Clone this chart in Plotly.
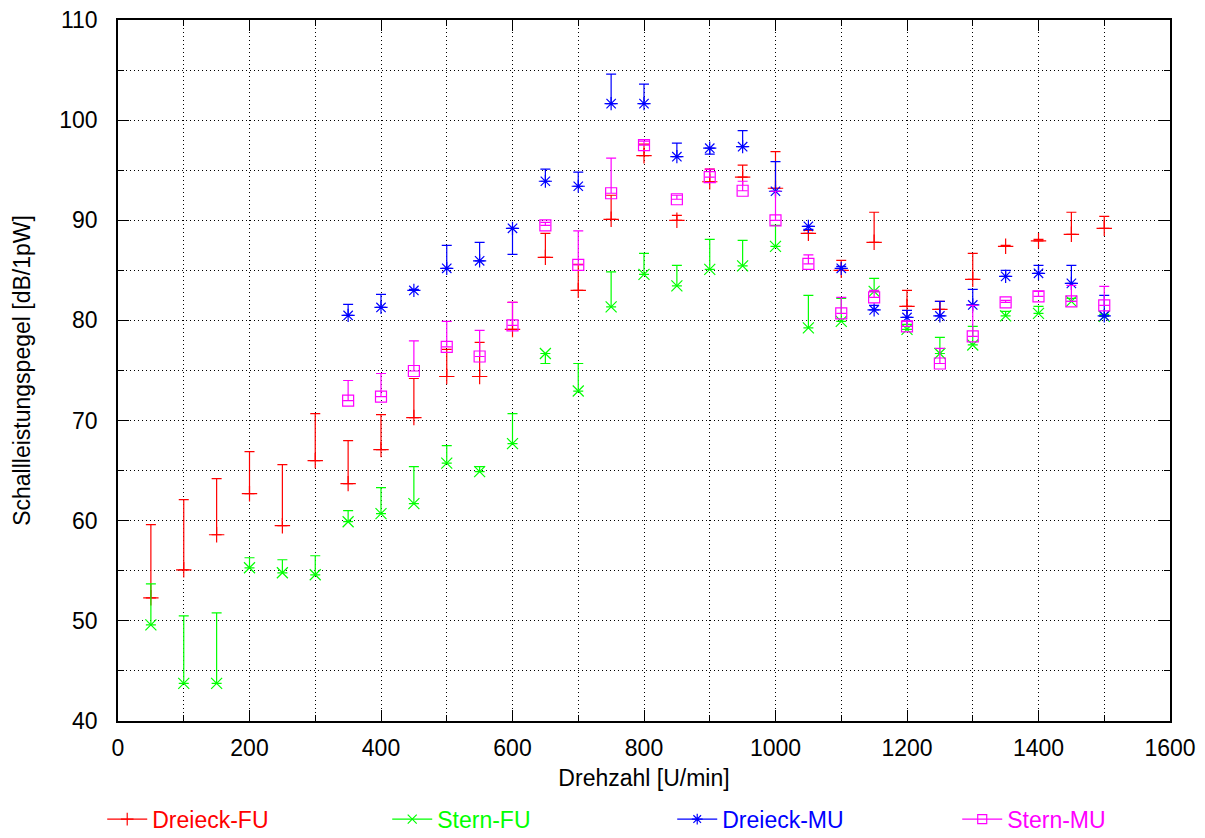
import plotly.graph_objects as go

# ---- data ----
drehzahl_fu = [50, 100, 150, 200, 250, 300, 350, 400, 450, 500, 550, 600, 650, 700, 750,
               800, 850, 900, 950, 1000, 1050, 1100, 1150, 1200, 1250, 1300, 1350, 1400, 1450, 1500]
drehzahl_mu = [350, 400, 450, 500, 550, 600, 650, 700, 750, 800, 850, 900, 950, 1000,
               1050, 1100, 1150, 1200, 1250, 1300, 1350, 1400, 1450, 1500]

# measured level and the far end of each error bar
dreieck_fu = [52.3, 55.1, 58.6, 62.7, 59.5, 66.0, 63.7, 67.1, 70.3, 74.4, 74.4, 79.1, 86.3, 83.0, 90.1,
              96.45, 90.0, 93.85, 94.3, 93.2, 88.7, 85.0, 87.8, 81.4, 81.1, 84.1, 87.4, 87.95, 88.6, 89.2]
dreieck_fu_end = [59.6, 62.1, 64.2, 66.9, 65.6, 70.7, 68.0, 70.6, 74.2, 77.1, 77.8, 81.8, 88.7, 85.6, 92.5,
                  97.6, 90.5, 95.1, 95.5, 96.85, 89.0, 86.0, 90.8, 83.0, 81.9, 86.7, 87.5, 88.1, 90.8, 90.4]

stern_fu = [49.6, 43.75, 43.75, 55.3, 54.8, 54.6, 59.9, 60.7, 61.7, 65.75, 64.9, 67.7, 76.7, 72.95, 81.35,
            84.6, 83.45, 85.1, 85.45, 87.4, 79.25, 79.9, 82.9, 79.1, 76.7, 77.55, 80.45, 80.7, 81.9, 80.4]
stern_fu_end = [53.7, 50.5, 50.8, 56.3, 56.1, 56.5, 61.0, 63.3, 65.4, 67.5, 65.4, 70.7, 75.7, 75.7, 84.85,
                86.7, 85.5, 88.1, 88.0, 89.5, 82.5, 82.2, 84.2, 79.6, 78.3, 79.4, 80.9, 81.4, 82.2, 80.6]

dreieck_mu = [80.5, 81.3, 83.0, 85.2, 85.95, 89.2, 93.9, 93.4, 101.65, 101.65, 96.35, 97.2, 97.35, 92.9,
              89.4, 85.2, 81.05, 80.3, 80.45, 81.55, 84.4, 84.7, 83.7, 80.45]
dreieck_mu_end = [81.6, 82.6, 83.1, 87.5, 87.8, 86.6, 95.1, 94.8, 104.6, 103.6, 97.7, 96.6, 98.95, 95.85,
                  89.1, 85.4, 81.5, 81.0, 81.9, 83.1, 85.0, 85.5, 85.5, 82.5]

stern_mu = [72.0, 72.4, 74.95, 77.35, 76.4, 79.5, 89.5, 85.55, 92.7, 97.5, 92.1, 94.3, 92.95, 90.0,
            85.65, 80.7, 82.3, 79.4, 75.7, 78.4, 81.8, 82.4, 81.9, 81.5]
stern_mu_end = [74.0, 74.7, 77.95, 79.9, 79.0, 81.8, 89.8, 88.95, 96.2, 97.9, 92.5, 95.1, 93.9, 92.9,
                86.55, 82.3, 83.0, 79.9, 77.2, 81.5, 82.0, 82.9, 83.5, 83.4]

series = [
    ("Dreieck-FU", drehzahl_fu, dreieck_fu, dreieck_fu_end, "#ff0000", "cross-thin-open"),
    ("Stern-FU", drehzahl_fu, stern_fu, stern_fu_end, "#00ff00", "x-thin-open"),
    ("Dreieck-MU", drehzahl_mu, dreieck_mu, dreieck_mu_end, "#0000ff", "asterisk-open"),
    ("Stern-MU", drehzahl_mu, stern_mu, stern_mu_end, "#ff00ff", "square-open"),
]

FONT = "Liberation Sans, Arial, Helvetica, sans-serif"
FS = 23

fig = go.Figure()
for name, xs, ys, ends, color, symbol in series:
    plus = [max(e - y, 0) for y, e in zip(ys, ends)]
    minus = [max(y - e, 0) for y, e in zip(ys, ends)]
    fig.add_trace(go.Scatter(
        x=xs, y=ys, mode="markers", name=name, showlegend=False,
        marker=dict(symbol=symbol, size=11, color=color, line=dict(color=color, width=1.2)),
        error_y=dict(type="data", symmetric=False, array=plus, arrayminus=minus,
                     color=color, thickness=1.2, width=5),
    ))
    # legend entry
    fig.add_trace(go.Scatter(
        x=[None], y=[None], mode="lines+markers",
        name=f"<span style='color:{color}'>{name}</span>",
        line=dict(color=color, width=1.2),
        marker=dict(symbol=symbol, size=9, color=color, line=dict(color=color, width=1.2)),
    ))

GRID_DASH = "1px,3px"
axis_common = dict(
    showline=True, linecolor="black", linewidth=1.5, mirror="ticks",
    ticks="inside", tickcolor="black", tickwidth=1.2,
    showgrid=True, gridcolor="black", gridwidth=1, griddash=GRID_DASH,
    zeroline=False,
    tickfont=dict(family=FONT, size=FS, color="black"),
)

fig.update_xaxes(
    range=[0, 1600], tick0=0, dtick=200, ticklen=11,
    minor=dict(dtick=100, ticks="inside", ticklen=6, tickcolor="black",
               showgrid=True, gridcolor="black", griddash=GRID_DASH, gridwidth=1),
    title=dict(text="Drehzahl [U/min]", font=dict(family=FONT, size=FS, color="black"), standoff=10),
    ticklabelstandoff=6,
    **axis_common,
)
fig.update_yaxes(
    range=[40, 110], tick0=40, dtick=10, ticklen=11,
    minor=dict(dtick=5, ticks="inside", ticklen=6, tickcolor="black",
               showgrid=True, gridcolor="black", griddash=GRID_DASH, gridwidth=1),
    title=dict(text="Schallleistungspegel [dB/1pW]", font=dict(family=FONT, size=FS, color="black"), standoff=22),
    ticklabelstandoff=14,
    **axis_common,
)

fig.update_layout(
    width=1205, height=838,
    margin=dict(l=118, r=35, t=20, b=117, autoexpand=False),
    plot_bgcolor="white", paper_bgcolor="white",
    font=dict(family=FONT, size=FS, color="black"),
    legend=dict(orientation="h", x=-0.015, xanchor="left", y=-0.14, yanchor="middle",
                entrywidth=230, entrywidthmode="pixels", itemwidth=40,
                font=dict(family=FONT, size=FS), bgcolor="rgba(0,0,0,0)"),
)

fig.write_html("out.html")
